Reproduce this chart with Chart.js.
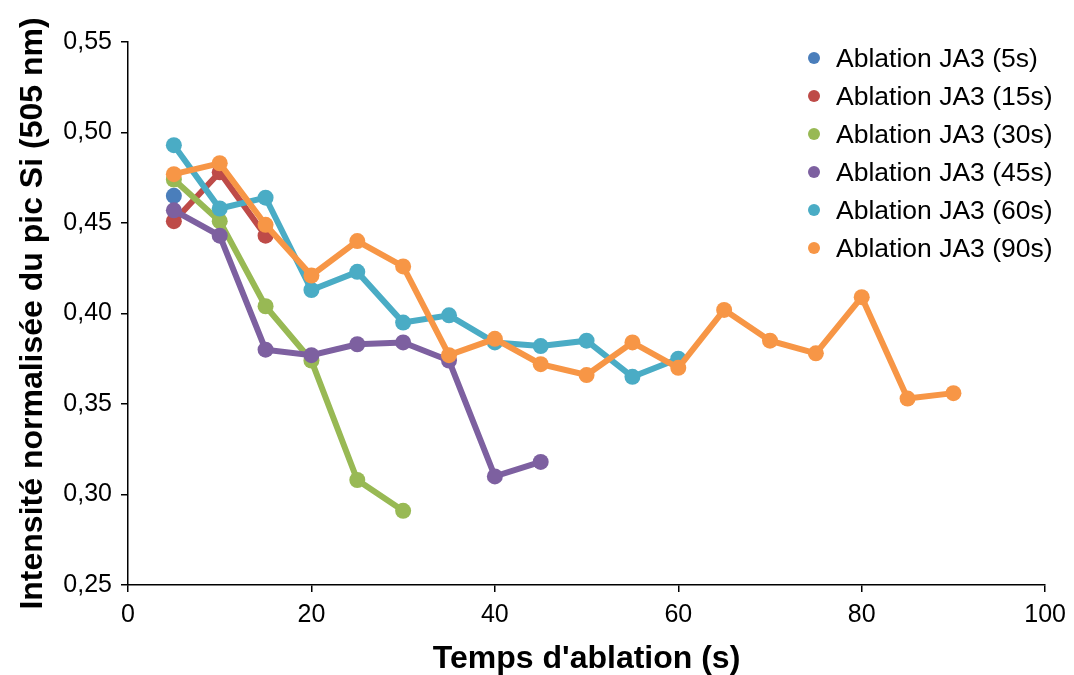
<!DOCTYPE html>
<html>
<head>
<meta charset="utf-8">
<script src="https://cdn.jsdelivr.net/npm/chart.js@4/dist/chart.umd.min.js"></script>
<style>
  html, body { margin: 0; padding: 0; background: #fff; }
  #wrap { position: relative; width: 1074px; height: 675px; }
  #legend { position: absolute; left: 808px; top: 39px; font-family: "Liberation Sans", Arial, sans-serif; font-size: 26.5px; color: #000; }
  #legend div { height: 38px; line-height: 38px; white-space: nowrap; }
  #legend span.dot { display: inline-block; width: 12px; height: 12px; border-radius: 50%; margin-right: 16px; vertical-align: middle; position: relative; top: -2px; }
</style>
</head>
<body>
<div id="wrap">
  <canvas id="chart" width="1074" height="675"></canvas>
  <div id="legend"></div>
</div>
<script>
// temps d'ablation (s) pour chaque série
const times5 = [5]
const times15 = [5, 10, 15]
const times30 = [5, 10, 15, 20, 25, 30]
const times45 = [5, 10, 15, 20, 25, 30, 35, 40, 45]
const times60 = [5, 10, 15, 20, 25, 30, 35, 40, 45, 50, 55, 60]
const times90 = [5, 10, 15, 20, 25, 30, 35, 40, 45, 50, 55, 60, 65, 70, 75, 80, 85, 90]

// intensité normalisée
const ja3_5s = [0.465]
const ja3_15s = [0.451, 0.478, 0.443]
const ja3_30s = [0.474, 0.451, 0.404, 0.374, 0.308, 0.291]
const ja3_45s = [0.457, 0.443, 0.380, 0.377, 0.383, 0.384, 0.374, 0.310, 0.318]
const ja3_60s = [0.493, 0.458, 0.464, 0.413, 0.423, 0.395, 0.399, 0.384, 0.382, 0.385, 0.365, 0.375]
const ja3_90s = [0.477, 0.483, 0.449, 0.421, 0.440, 0.426, 0.377, 0.386, 0.372, 0.366, 0.384, 0.370, 0.402, 0.385, 0.378, 0.409, 0.353, 0.356]

const seriesLabels = [
  "Ablation JA3 (5s)",
  "Ablation JA3 (15s)",
  "Ablation JA3 (30s)",
  "Ablation JA3 (45s)",
  "Ablation JA3 (60s)",
  "Ablation JA3 (90s)",
]
const xTicks = [0, 20, 40, 60, 80, 100]
const yTicks = [0.25, 0.30, 0.35, 0.40, 0.45, 0.50, 0.55]

const colors = ["#4a7ebb", "#be4b48", "#98b954", "#7d60a0", "#4aacc5", "#f79646"]
const allTimes = [times5, times15, times30, times45, times60, times90]
const allValues = [ja3_5s, ja3_15s, ja3_30s, ja3_45s, ja3_60s, ja3_90s]

const font = "'Liberation Sans', Arial, sans-serif"

const datasets = seriesLabels.map((label, i) => ({
  label: label,
  data: allTimes[i].map((t, j) => ({ x: t, y: allValues[i][j] })),
  borderColor: colors[i],
  backgroundColor: colors[i],
  pointBackgroundColor: colors[i],
  pointBorderWidth: 0,
  pointRadius: 8,
  borderWidth: 6,
  tension: 0,
  fill: false,
  order: seriesLabels.length - i, // dernière série dessinée au-dessus
}))

const ctx = document.getElementById("chart").getContext("2d")
new Chart(ctx, {
  type: "line",
  data: { datasets: datasets },
  options: {
    responsive: false,
    animation: false,
    devicePixelRatio: 1,
    layout: { padding: { left: 10, right: 28, top: 42, bottom: 0 } },
    plugins: {
      legend: { display: false },
      tooltip: { enabled: false },
    },
    scales: {
      x: {
        type: "linear",
        min: 0,
        max: 100,
        afterBuildTicks: (scale) => { scale.ticks = xTicks.map((v) => ({ value: v })) },
        afterFit: (scale) => { scale.height = 90 },
        grid: { drawOnChartArea: false, drawTicks: true, tickLength: 7, color: "#000", lineWidth: 1.5 },
        border: { color: "#000", width: 1.5 },
        ticks: { color: "#000", padding: 8, font: { family: font, size: 25 } },
        title: {
          display: true,
          text: "Temps d'ablation (s)",
          color: "#000",
          padding: { top: 0, bottom: 0 },
          font: { family: font, size: 32, weight: "bold", lineHeight: 1 },
        },
      },
      y: {
        type: "linear",
        min: 0.25,
        max: 0.55,
        afterBuildTicks: (scale) => { scale.ticks = yTicks.map((v) => ({ value: v })) },
        afterFit: (scale) => { scale.width = 118 },
        grid: { drawOnChartArea: false, drawTicks: true, tickLength: 7, color: "#000", lineWidth: 1.5 },
        border: { color: "#000", width: 1.5 },
        ticks: {
          color: "#000",
          padding: 9,
          font: { family: font, size: 25 },
          callback: (v) => v.toFixed(2).replace(".", ","),
        },
        title: {
          display: true,
          text: "Intensité normalisée du pic Si (505 nm)",
          color: "#000",
          padding: { top: 4, bottom: 4 },
          font: { family: font, size: 32, weight: "bold" },
        },
      },
    },
  },
})

// légende HTML à l'intérieur de la zone du graphique
const legendEl = document.getElementById("legend")
seriesLabels.forEach((label, i) => {
  const row = document.createElement("div")
  const dot = document.createElement("span")
  dot.className = "dot"
  dot.style.background = colors[i]
  row.appendChild(dot)
  row.appendChild(document.createTextNode(label))
  legendEl.appendChild(row)
})
</script>
</body>
</html>
